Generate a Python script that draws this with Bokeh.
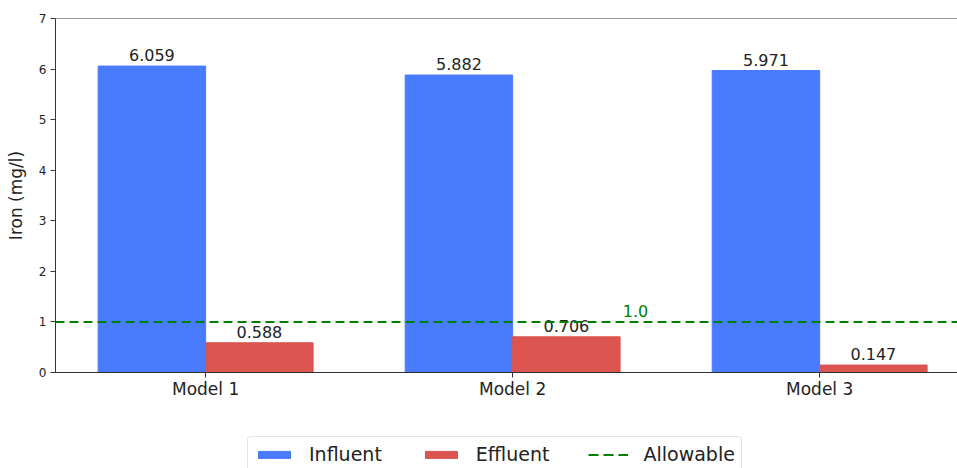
from bokeh.plotting import figure
from bokeh.models import (ColumnDataSource, Range1d, FixedTicker, Legend, LegendItem,
                          Span, Label)
from bokeh.layouts import column
from bokeh.core.properties import value
from bokeh.embed import file_html
from bokeh.resources import INLINE

models = ["Model 1", "Model 2", "Model 3"]
influent = [6.059, 5.882, 5.971]
effluent = [0.588, 0.706, 0.147]
allowable = 1.0
allowable_label_x = 1.4
y_ticks = [0, 1, 2, 3, 4, 5, 6, 7]

FONT = "DejaVu Sans"
BLUE = "#497BFF"
RED = "#DB5450"
GREEN = "#008000"
AX = "#333333"
TXT = "#222222"
W = 0.35

idx = list(range(len(models)))
src = ColumnDataSource(dict(
    x=idx,
    x_in=[i - W / 2 for i in idx],
    x_ef=[i + W / 2 for i in idx],
    inf=influent,
    eff=effluent,
    inf_lbl=[f"{v:.3f}" for v in influent],
    eff_lbl=[f"{v:.3f}" for v in effluent],
))

p = figure(width=957, height=410, output_backend="svg", toolbar_location=None,
           x_range=Range1d(-0.489, 2.449), y_range=Range1d(0, 7),
           min_border_left=55, min_border_right=0, min_border_top=18,
           min_border_bottom=38)
p.outline_line_color = None
p.grid.visible = False
p.background_fill_color = "white"
p.border_fill_color = "white"

p.vbar(x="x_in", top="inf", width=W, source=src, fill_color=BLUE, line_color=BLUE)
p.vbar(x="x_ef", top="eff", width=W, source=src, fill_color=RED, line_color=RED)
p.add_layout(Span(location=allowable, dimension="width", line_color=GREEN,
                  line_width=2, line_dash="9 5"))
# top spine
p.add_layout(Span(location=7, dimension="width", line_color=AX, line_width=1))

p.text(x="x_in", y="inf", text="inf_lbl", source=src, text_align="center",
       text_baseline="bottom", y_offset=-5, text_font=value(FONT),
       text_font_size="16px", text_color=TXT)
p.text(x="x_ef", y="eff", text="eff_lbl", source=src, text_align="center",
       text_baseline="bottom", y_offset=-5, text_font=value(FONT),
       text_font_size="16px", text_color=TXT)
p.add_layout(Label(x=allowable_label_x, y=allowable, text=f"{allowable:.1f}",
                   text_align="center", text_baseline="bottom", y_offset=5,
                   text_font=FONT, text_font_size="16px", text_color=GREEN))

for ax in (p.xaxis[0], p.yaxis[0]):
    ax.axis_line_color = AX
    ax.major_tick_line_color = AX
    ax.major_tick_out = 5
    ax.major_tick_in = 0
    ax.minor_tick_line_color = None
    ax.major_label_text_font = FONT
    ax.major_label_text_color = TXT

p.xaxis.ticker = FixedTicker(ticks=idx)
p.xaxis.major_label_overrides = {i: m for i, m in zip(idx, models)}
p.xaxis.major_label_text_font_size = "17px"
p.xaxis.major_label_standoff = 1

p.yaxis.ticker = FixedTicker(ticks=y_ticks)
p.yaxis.major_label_text_font_size = "12px"
p.yaxis.major_label_standoff = 4
p.yaxis.axis_label = "Iron (mg/l)"
p.yaxis.axis_label_text_font = FONT
p.yaxis.axis_label_text_font_size = "17px"
p.yaxis.axis_label_text_font_style = "normal"
p.yaxis.axis_label_text_color = TXT
p.yaxis.axis_label_standoff = 10

# legend panel below the chart
lp = figure(width=957, height=58, output_backend="svg", toolbar_location=None,
            x_range=Range1d(0, 1), y_range=Range1d(0, 1),
            min_border_left=0, min_border_right=0, min_border_top=0,
            min_border_bottom=0)
lp.axis.visible = False
lp.grid.visible = False
lp.outline_line_color = None
l_in = lp.vbar(x="x_in", top="inf", width=W, source=src, fill_color=BLUE,
               line_color=BLUE, visible=False)
l_ef = lp.vbar(x="x_ef", top="eff", width=W, source=src, fill_color=RED,
               line_color=RED, visible=False)
l_al = lp.line(x="x", y="eff", source=src, line_color=GREEN, line_width=2,
               line_dash="10 5", visible=False)

legend = Legend(items=[LegendItem(label="Influent", renderers=[l_in]),
                       LegendItem(label="Effluent", renderers=[l_ef]),
                       LegendItem(label="Allowable", renderers=[l_al])],
                orientation="horizontal", location=(192, -4),
                label_text_font=FONT, label_text_font_size="19px",
                label_text_color=TXT, label_height=20,
                glyph_width=40, glyph_height=9, label_standoff=15,
                spacing=39, padding=6, margin=0,
                border_line_color="#cccccc", border_line_width=1,
                border_radius=4, background_fill_color="white",
                inactive_fill_alpha=0)
lp.add_layout(legend)

open("out.html", "w").write(file_html(column(p, lp), INLINE))
